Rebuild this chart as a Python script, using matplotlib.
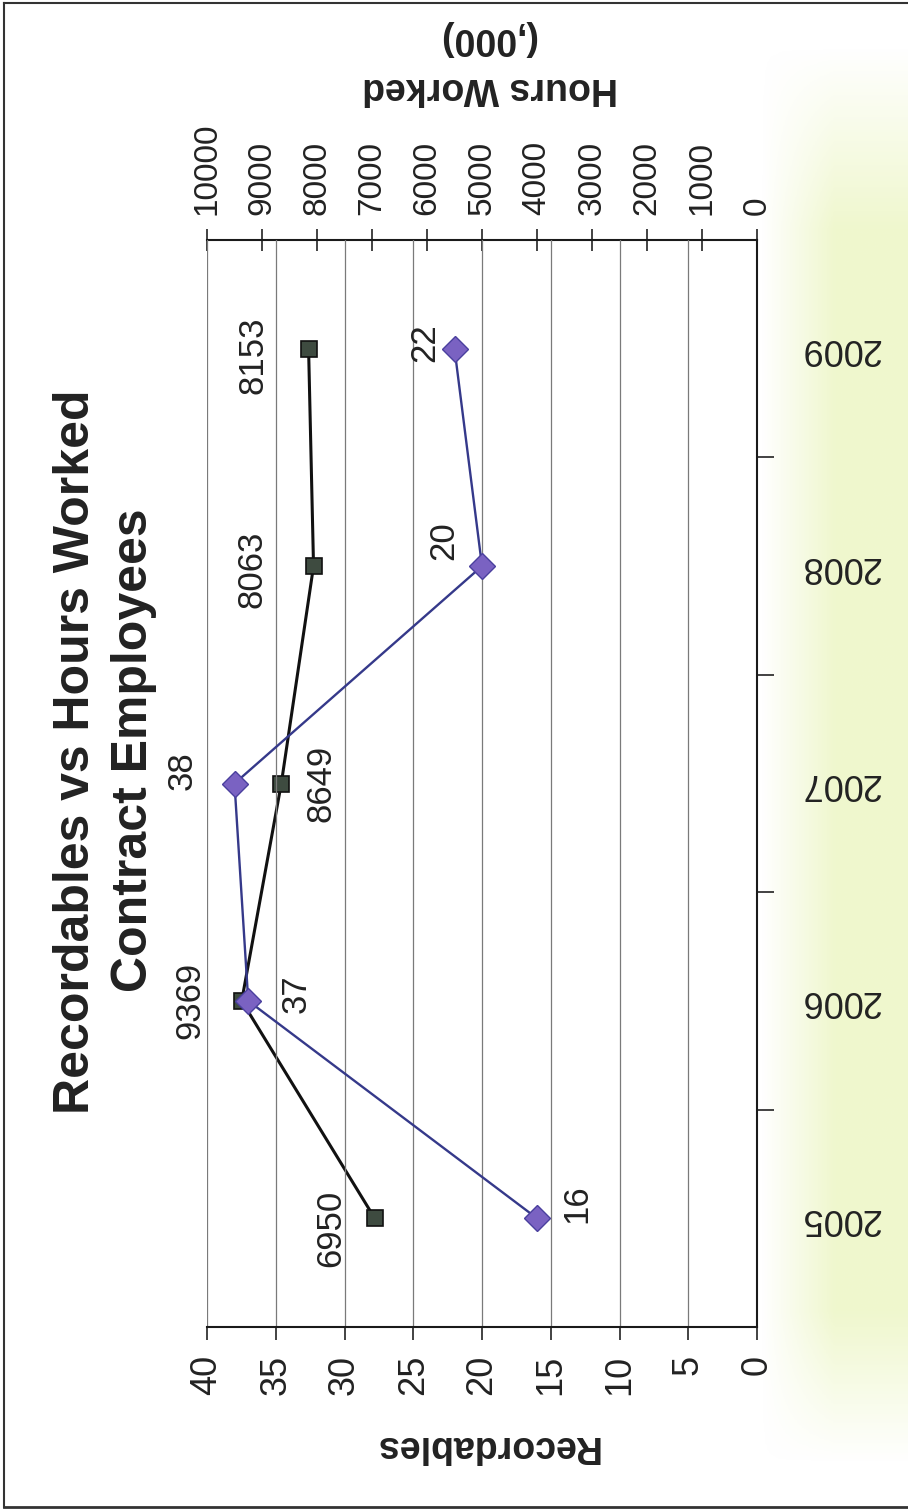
import numpy as np
import matplotlib
matplotlib.use("Agg")
import matplotlib.pyplot as plt
from matplotlib.lines import Line2D

# data
years = ["2005", "2006", "2007", "2008", "2009"]
recordables = [16, 37, 38, 20, 22]
hours_worked = [6950, 9369, 8649, 8063, 8153]

# label offsets (pixels) for the data labels
rec_offsets = [(40, 15), (48, 7), (-52, 13), (-38, 25), (-30, 6)]
hrs_offsets = [(-44, -10), (-52, 0), (40, 0), (-62, -3), (-56, -7)]

plt.rcParams["font.family"] = ["Liberation Sans", "DejaVu Sans"]
NARROW = ["Liberation Sans Narrow", "Liberation Sans", "DejaVu Sans"]
TXT = "#222222"

W, H = 908, 1510
fig = plt.figure(figsize=(W / 100, H / 100), dpi=100)
fig.patch.set_facecolor("white")

# scanned paper tint on the right side
bg = fig.add_axes([0, 0, 1, 1], zorder=-10)
bg.set_axis_off()
xs = np.linspace(0, 1, 400)
ramp = np.clip((xs - 0.84) / 0.08, 0, 1) * 0.6
ys = np.linspace(0, 1, 300)
vmask = np.clip((ys - 0.03) / 0.10, 0, 1) * np.clip((0.97 - ys) / 0.12, 0, 1)
alpha = np.outer(vmask, ramp)
rgba = np.zeros((300, 400, 4))
rgba[..., 0] = 0.90
rgba[..., 1] = 0.95
rgba[..., 2] = 0.68
rgba[..., 3] = alpha
bg.imshow(rgba, extent=[0, 1, 0, 1], origin="lower", aspect="auto")
bg.set_xlim(0, 1)
bg.set_ylim(0, 1)

# page border of the scan
fig.add_artist(Line2D([0.004, 0.004], [0.002, 0.998], transform=fig.transFigure, color="#333333", lw=1.5))
fig.add_artist(Line2D([0.004, 1], [0.998, 0.998], transform=fig.transFigure, color="#333333", lw=1.5))
fig.add_artist(Line2D([0.004, 1], [0.002, 0.002], transform=fig.transFigure, color="#333333", lw=2))

# x = recordables (reversed), y = year index
ax = fig.add_axes([207 / W, 1 - 1327 / H, 550 / W, 1087 / H])
ax2 = ax.twiny()
ax.set_zorder(ax2.get_zorder() + 1)
ax.patch.set_visible(False)
ax2.patch.set_facecolor("white")

idx = np.arange(len(years))

ax.set_xlim(40, 0)
ax.set_ylim(-0.5, len(years) - 0.5)
ax2.set_xlim(10000, 0)

ax2.plot(hours_worked, idx, color="#111111", lw=2.2, marker="s", markersize=12,
         markerfacecolor="#3e4b40", markeredgecolor="#111111", markeredgewidth=1.2)
ax.plot(recordables, idx, color="#35398a", lw=1.7, marker="D", markersize=13,
        markerfacecolor="#7a62c2", markeredgecolor="#4a3f9e", markeredgewidth=1.0)

for v, i, (dx, dy) in zip(recordables, idx, rec_offsets):
    ax.annotate(str(v), (v, i), xytext=(dx, dy), textcoords="offset pixels",
                rotation=90, ha="center", va="center", fontsize=25, color=TXT)
for v, i, (dx, dy) in zip(hours_worked, idx, hrs_offsets):
    ax2.annotate(str(v), (v, i), xytext=(dx, dy), textcoords="offset pixels",
                 rotation=90, ha="center", va="center", fontsize=25, color=TXT)

# recordables axis (bottom)
ax.set_xticks(np.arange(0, 41, 5))
ax.tick_params(axis="x", direction="out", length=9, width=1.2, pad=11,
               labelsize=26, labelrotation=90, colors=TXT)
ax.grid(axis="x", color="#7a7a7a", lw=0.9)
ax.set_axisbelow(True)

# year axis (right)
ax.yaxis.tick_right()
ax.set_yticks(idx[:-1] + 0.5)
ax.set_yticklabels([])
ax.set_yticks(idx, minor=True)
ax.set_yticklabels(years, minor=True)
ax.tick_params(axis="y", which="major", direction="out", length=12, width=1.2, colors=TXT)
ax.tick_params(axis="y", which="minor", length=0, pad=31, labelsize=26,
               labelrotation=180, colors=TXT)
for lab in ax.get_yticklabels(minor=True):
    lab.set_verticalalignment("center")

for s in ["left", "top"]:
    ax.spines[s].set_visible(False)
for s in ["right", "bottom"]:
    ax.spines[s].set_linewidth(1.5)
    ax.spines[s].set_color("#1a1a1a")

# hours axis (top)
ax2.set_xticks(np.arange(0, 10001, 1000))
ax2.tick_params(axis="x", direction="inout", length=16, width=1.2, pad=10,
                labelsize=24, labelrotation=90, colors=TXT)
for s in ["left", "right", "bottom"]:
    ax2.spines[s].set_visible(False)
ax2.spines["top"].set_linewidth(1.5)
ax2.spines["top"].set_color("#1a1a1a")

# axis titles (upside down in the scan)
fig.text(486 / W, 1 - 1446 / H, "Recordables", rotation=180, ha="center", va="center",
         fontsize=27, fontweight="bold", color=TXT)
fig.text(490 / W, 1 - 88 / H, "Hours Worked", rotation=180, ha="center", va="center",
         fontsize=27, fontweight="bold", color=TXT)
fig.text(487 / W, 1 - 38 / H, "(,000)", rotation=180, ha="center", va="center",
         fontsize=27, fontweight="bold", color=TXT)

# chart title, rotated
fig.text(76 / W, 1 - 752 / H, "Recordables vs Hours Worked", rotation=90, ha="center",
         va="center", fontsize=36, fontweight="bold", family=NARROW, color=TXT)
fig.text(134 / W, 1 - 750 / H, "Contract Employees", rotation=90, ha="center",
         va="center", fontsize=36, fontweight="bold", family=NARROW, color=TXT)

fig.savefig("out.png", dpi=100)
